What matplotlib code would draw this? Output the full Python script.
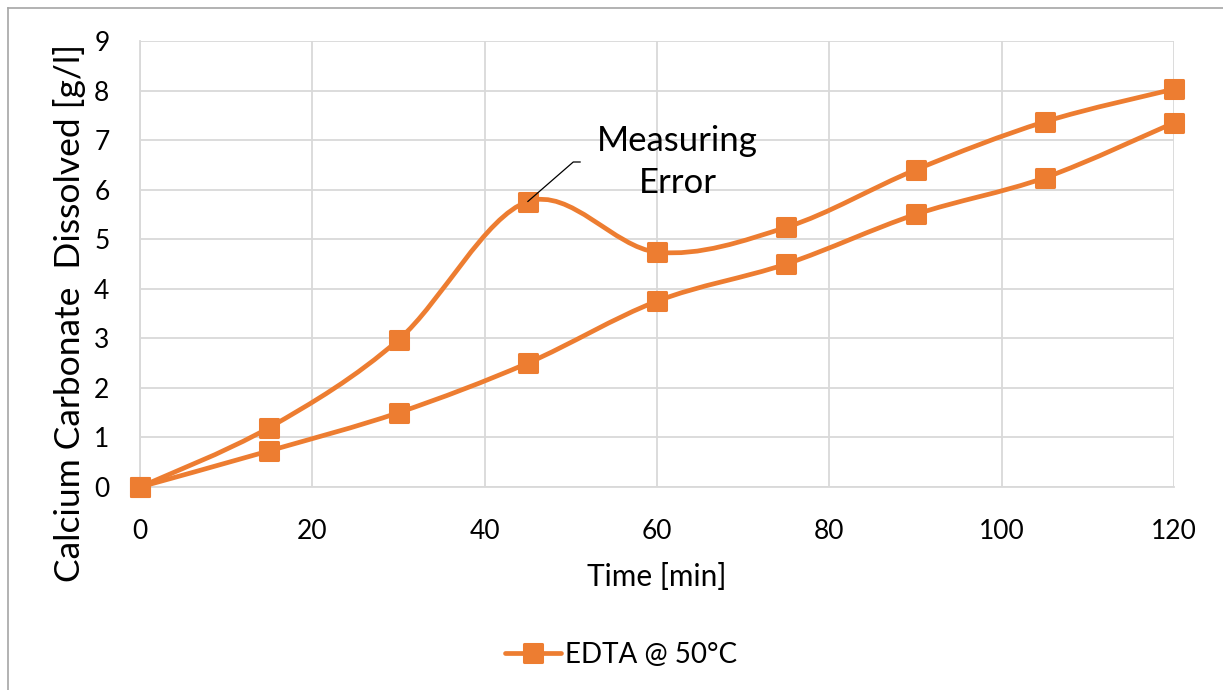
import matplotlib
import numpy as np

matplotlib.use("Agg")
import matplotlib.pyplot as plt
from matplotlib.lines import Line2D
from matplotlib.markers import MarkerStyle
from matplotlib.patches import PathPatch
from matplotlib.path import Path

# time points [min] and dissolved CaCO3 [g/l]
TIME = [0, 15, 30, 45, 60, 75, 90, 105, 120]
RUN_A = [0, 1.20, 2.97, 5.76, 4.74, 5.24, 6.40, 7.37, 8.03]
RUN_B = [0, 0.73, 1.50, 2.50, 3.75, 4.50, 5.50, 6.24, 7.35]

ORANGE = "#ED7D31"
GRID = "#D9D9D9"
FONT = ["Lato", "DejaVu Sans"]

plt.rcParams.update({"font.family": FONT, "text.color": "#000000"})


def smooth_path(x, y):
    # spreadsheet-style smoothed line: cubic Bezier through every point
    p = np.column_stack([x, y]).astype(float)
    ext = np.vstack([p[0], p, p[-1]])
    verts = [p[0]]
    codes = [Path.MOVETO]
    for i in range(len(p) - 1):
        p0, p1, p2, p3 = ext[i], ext[i + 1], ext[i + 2], ext[i + 3]
        verts += [p1 + (p2 - p0) / 6, p2 - (p3 - p1) / 6, p2]
        codes += [Path.CURVE4] * 3
    return Path(verts, codes)


fig = plt.figure(figsize=(12.23, 6.9), dpi=100)
ax = fig.add_axes([140 / 1223, 1 - 487 / 690, 1034 / 1223, 446 / 690])

mk = MarkerStyle("s", joinstyle="round")
for ys in (RUN_A, RUN_B):
    ax.add_patch(PathPatch(smooth_path(TIME, ys), fill=False, edgecolor=ORANGE,
                           lw=3.4, capstyle="round", joinstyle="round", zorder=3))
    ax.plot(TIME, ys, ls="none", marker=mk, ms=13.5, mfc=ORANGE, mec=ORANGE,
            mew=2.2, zorder=4, clip_on=False)

ax.set_xlim(0, 120)
ax.set_ylim(0, 9)
ax.set_xticks(range(0, 121, 20))
ax.set_yticks(range(0, 10))
ax.grid(True, color=GRID, lw=1.3, zorder=0)
ax.set_axisbelow(True)
for s in ["top", "right"]:
    ax.spines[s].set_visible(False)
for s in ["left", "bottom"]:
    ax.spines[s].set_color(GRID)
    ax.spines[s].set_linewidth(1.3)
ax.tick_params(length=0, labelsize=19)
ax.tick_params(axis="y", pad=22)
ax.tick_params(axis="x", pad=23)

ax.set_xlabel("Time [min]", fontsize=21.5, va="center")
ax.xaxis.set_label_coords(0.5, (487 - 577) / 446)
ax.set_ylabel("Calcium Carbonate  Dissolved [g/l]", fontsize=25.5, va="center")
ax.yaxis.set_label_coords((70 - 140) / 1034, (487 - 313) / 446)

# outlier annotation with elbow leader line
ax.annotate("Measuring\nError", xy=(TIME[3], RUN_A[3]), xytext=(597 / 1223, 1 - 162 / 690),
            textcoords="figure fraction", fontsize=25, ha="left", va="center",
            multialignment="center", linespacing=1.42, zorder=6,
            arrowprops=dict(arrowstyle="-", color="black", lw=0.9,
                            connectionstyle="angle,angleA=0,angleB=41,rad=0",
                            shrinkA=10, shrinkB=0))

handle = Line2D([0], [0], color=ORANGE, lw=3.4, marker=mk, ms=13.5, mfc=ORANGE,
                mec=ORANGE, mew=2.2, solid_capstyle="round")
fig.legend(handles=[handle], labels=["EDTA @ 50°C"], loc="center",
           bbox_to_anchor=(621 / 1223, 1 - 655 / 690), frameon=False, fontsize=20,
           handlelength=2.0, handletextpad=0.15)

# chart area border
fig.add_artist(Line2D([7.5 / 1223, 7.5 / 1223], [0, 1 - 8 / 690], color="#A6A6A6", lw=1.2,
                      transform=fig.transFigure))
fig.add_artist(Line2D([7.5 / 1223, 1], [1 - 8 / 690, 1 - 8 / 690], color="#A6A6A6", lw=1.2,
                      transform=fig.transFigure))

fig.savefig("out.png", dpi=100, facecolor="white")
